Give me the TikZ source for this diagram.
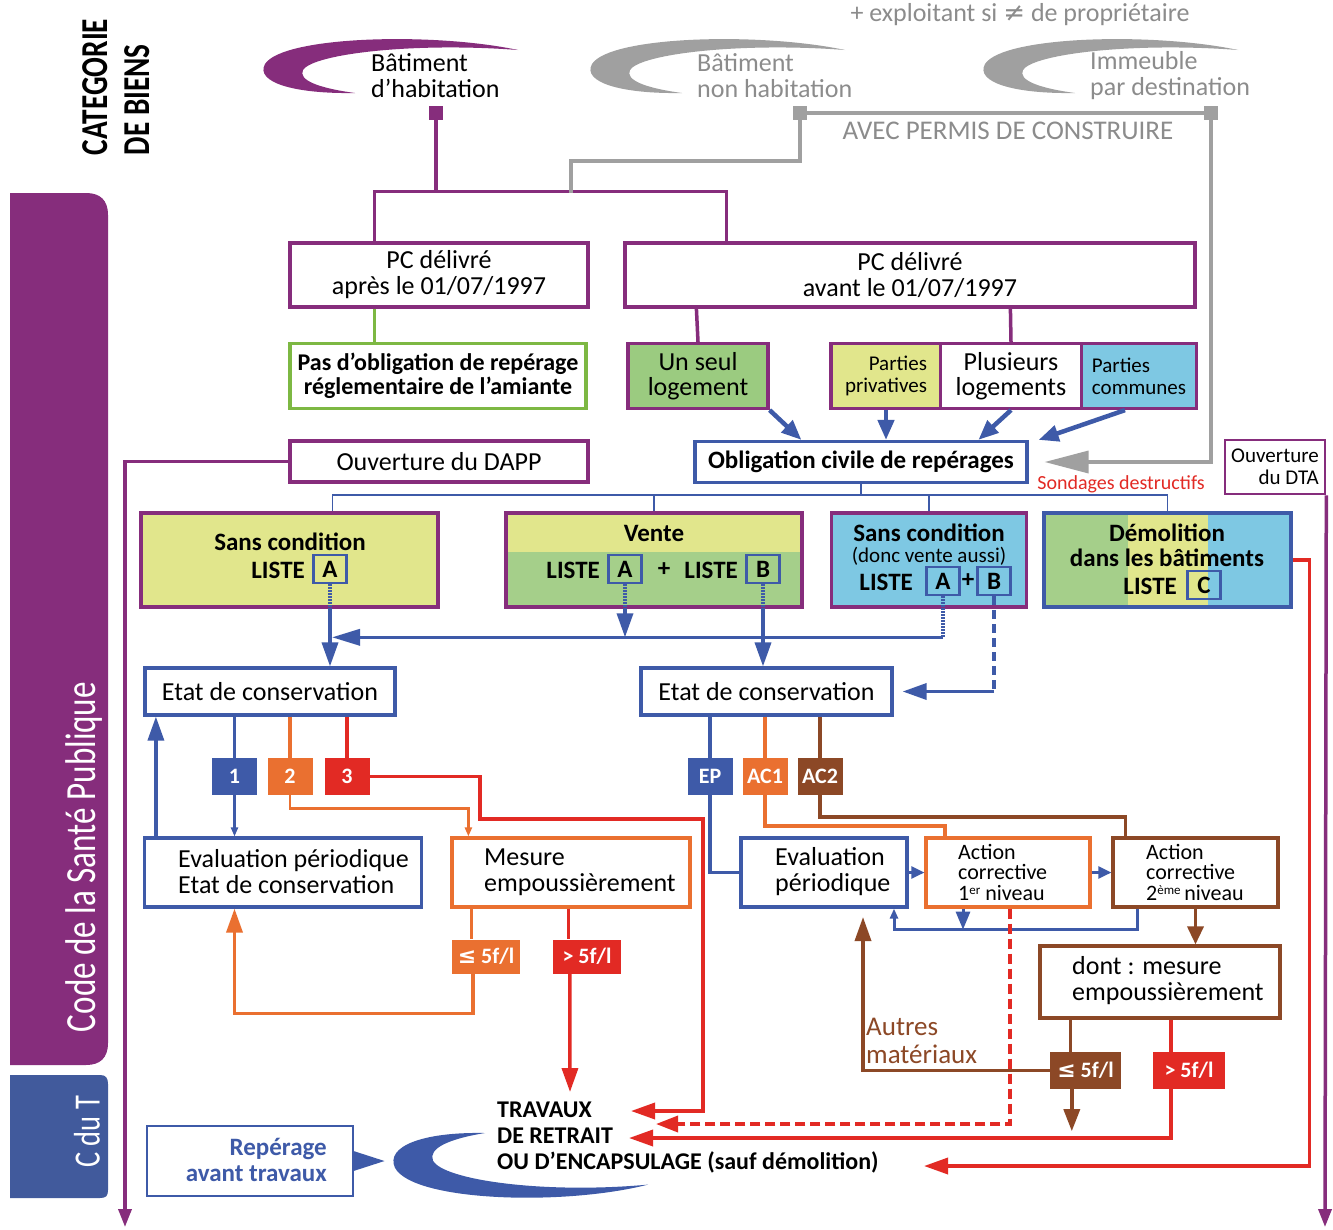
\documentclass[tikz,border=0pt]{standalone}
\usepackage{fontspec}
\setmainfont{Carlito}
\newfontfamily\condfont[FakeStretch=0.77]{Carlito}
\newfontfamily\symfont{DejaVu Sans}
\usetikzlibrary{arrows.meta,calc}
\definecolor{cpurple}{RGB}{134,45,124}
\definecolor{cblue}{RGB}{62,90,168}
\definecolor{corange}{RGB}{234,112,48}
\definecolor{cred}{RGB}{226,42,36}
\definecolor{cbrown}{RGB}{140,72,38}
\definecolor{cgray}{RGB}{160,160,160}
\definecolor{cgrayt}{RGB}{140,140,140}
\definecolor{cgreenb}{RGB}{125,184,67}
\definecolor{cyellow}{RGB}{225,230,140}
\definecolor{cgreen}{RGB}{165,207,138}
\definecolor{cgreentwo}{RGB}{155,203,128}
\definecolor{clblue}{RGB}{126,200,227}
\definecolor{cband}{RGB}{65,90,156}
\newcommand\myfR{\fontsize{26}{26}\selectfont}
\newcommand\myfB{\bfseries\fontsize{25}{26}\selectfont}
\newcommand\myfS{\fontsize{21}{22}\selectfont}
\newcommand\mysup[1]{{\fontsize{13}{13}\selectfont\raisebox{6pt}{#1}}}
\tikzset{cres/.pic={\fill (255,-18) .. controls (170,-36) and (20,-32) .. (2,-4) .. controls (-8,14) and (30,26) .. (92,25) .. controls (55,20) and (35,12) .. (40,2) .. controls (50,-14) and (150,-26) .. (255,-18) -- cycle;}}
\begin{document}
\begin{tikzpicture}[x=1pt,y=-1pt,
  box/.style={draw, line width=3.2pt, fill=white, inner sep=0pt, align=center, font=\myfR},
  lbl/.style={inner sep=0pt, align=left, font=\myfR, anchor=west},
  tag/.style={inner sep=0pt, minimum width=45pt, minimum height=37pt, text=white, font=\bfseries\fontsize{22}{22}\selectfont},
  lbox/.style={draw=cblue, line width=2.6pt, minimum width=33pt, minimum height=28pt, inner sep=0pt, font=\myfB},
  con/.style={line width=3.5pt},
  bigtip/.style={-{Triangle[length=24pt,width=16pt]}},
  barrow/.style={cblue, line width=4.5pt, -{Triangle[length=20pt,width=16pt]}},
  ldot/.style={cblue, line width=3.5pt, dash pattern=on 1.5pt off 1.5pt},
  tree/.style={cblue, line width=1.8pt}]
\fill[white] (0,0) rectangle (1333,1229);
\useasboundingbox (0,0) rectangle (1333,1229);

% left bands
\fill[cpurple] (10,193) -- (86,193) .. controls (100,193) and (108,200) .. (108,215) -- (108,1043) .. controls (108,1058) and (100,1065) .. (86,1065) -- (10,1065) -- cycle;
\fill[cband] (10,1075) -- (100,1075) .. controls (106,1075) and (108,1078) .. (108,1084) -- (108,1190) .. controls (108,1196) and (106,1198) .. (100,1198) -- (10,1198) -- cycle;
\node[rotate=90, text=white, inner sep=0pt, font=\condfont\fontsize{43}{43}\selectfont] (csp) at (84,857) {Code de la Santé Publique};
\node[rotate=90, text=white, inner sep=0pt, font=\condfont\fontsize{37}{37}\selectfont] (cdt) at (87,1132) {C du T};
\node[rotate=90, align=left, inner sep=0pt, font=\condfont\bfseries\fontsize{38}{42}\selectfont] (cat) at (116,87) {CATEGORIE\\DE BIENS};

% top categories
\node[text=cgrayt, font=\myfR, inner sep=0pt] (expl) at (1020,15) {+ exploitant si {\symfont ≠} de propriétaire};
\pic[color=cpurple] at (263,68) {cres};
\pic[color=cgray] at (590,68) {cres};
\pic[color=cgray] at (983,68) {cres};
\node[lbl] (hab) at (371,76) {Bâtiment\\d’habitation};
\node[lbl, text=cgrayt] (bnh) at (697,76) {Bâtiment\\non habitation};
\node[lbl, text=cgrayt] (ipd) at (1090,76) {Immeuble\\par destination};
\node[fill=cpurple, minimum size=14pt, inner sep=0pt] (sqH) at (436,113) {};
\node[fill=cgray, minimum size=14pt, inner sep=0pt] (sqN) at (800,113) {};
\node[fill=cgray, minimum size=14pt, inner sep=0pt] (sqI) at (1211,113) {};
\draw[cgray, con] (sqN.center) -- (sqI.center);
\node[text=cgrayt, font=\fontsize{27}{27}\selectfont, inner sep=0pt] (avec) at (1008,131) {AVEC PERMIS DE CONSTRUIRE};

% PC boxes
\node[box, draw=cpurple, minimum width=298pt, minimum height=64pt] (pcap) at (439,275) {PC délivré\\après le 01/07/1997};
\node[box, draw=cpurple, minimum width=570pt, minimum height=64pt] (pcav) at (910,275) {PC délivré\\avant le 01/07/1997};
\coordinate (tH) at (436,193);
\coordinate (gj) at (571,193);
\draw[cpurple, con] ([xshift=86pt]pcap.north west) -- ++(0,-50) -| ([xshift=103pt]pcav.north west);
\draw[cpurple, con] (sqH.center) -- (tH);
\draw[cgray, con] (sqN.center) -- ++(0,48) -| (gj);

\node[box, draw=cgreenb, minimum width=296pt, minimum height=65pt, font=\bfseries\fontsize{24}{24}\selectfont] (pasob) at (438,376) {Pas d’obligation de repérage\\réglementaire de l’amiante};
\draw[cgreenb, con] ([xshift=86pt]pcap.south west) -- ([xshift=86pt]pasob.north west);
\node[box, draw=cpurple, fill=cgreentwo, minimum width=140pt, minimum height=65pt, font=\fontsize{26}{25}\selectfont] (unseul) at (698,376) {Un seul\\logement};
\draw[cpurple, con] ([xshift=73pt]pcav.south west) -- (unseul.north);
\node[box, draw=cpurple, fill=cyellow, minimum width=110pt, minimum height=65pt, align=right, font=\myfS] (priv) at (886,376) {Parties\\privatives};
\node[box, draw=cpurple, fill=clblue, minimum width=115pt, minimum height=65pt, align=left, font=\myfS] (comm) at (1139,376) {Parties\\communes};
\node[box, draw=cpurple, minimum width=141pt, minimum height=65pt, font=\fontsize{26}{25}\selectfont] (plus) at (1011,376) {Plusieurs\\logements};
\draw[cpurple, con] ([xshift=387pt]pcav.south west) -- (plus.north);

% obligation
\node[box, draw=cblue, minimum width=332pt, minimum height=41pt, font=\myfB] (oblig) at (861,462) {Obligation civile de repérages};
\draw[barrow] (unseul.south east) -- ([xshift=108pt]oblig.north west);
\draw[barrow] (priv.south) -- (priv.south |- oblig.north);
\draw[barrow] (plus.south) -- ([xshift=285pt]oblig.north west);
\draw[barrow] ([xshift=-14pt]comm.south) -- ([xshift=10pt]oblig.north east);
\draw[cgray, con, -{Triangle[length=44pt,width=22pt]}] (sqI.center) -- (sqI.center |- oblig.east) -- ([xshift=16pt]oblig.east);
\node[text=cred, font=\fontsize{20}{20}\selectfont, inner sep=0pt] (sond) at (1121,484) {Sondages destructifs};

\node[box, draw=cpurple, minimum width=298pt, minimum height=41pt] (dapp) at (439,461.5) {Ouverture du DAPP};
\coordinate (dappend) at (125,1227);
\draw[cpurple, con, -{Triangle[length=18pt,width=13pt]}] (dapp.west) -| (dappend);
\node[box, draw=cpurple, line width=2.6pt, minimum width=100pt, minimum height=54pt, align=right, font=\myfS] (dta) at (1275,467) {Ouverture\\du DTA};
\coordinate (dtaend) at (1325,1227);
\draw[cpurple, con, -{Triangle[length=18pt,width=13pt]}] (dta.south east) -- (dtaend);

% four boxes
\node[box, draw=cpurple, fill=cyellow, minimum width=297pt, minimum height=94pt] (sc1) at (289.5,560) {};
\node[font=\myfB, inner sep=0pt] (sc1t) at (290,542) {Sans condition};
\node[font=\myfB, inner sep=0pt, anchor=east] (sc1l) at (305,570) {LISTE};
\node[lbox] (sc1A) at (330,569) {A};

\fill[cyellow] (506,513) rectangle (802,552);
\fill[cgreen] (506,552) rectangle (802,607);
\node[box, draw=cpurple, fill=none, minimum width=296pt, minimum height=94pt] (vente) at (654,560) {};
\node[font=\myfB, inner sep=0pt] (ventet) at (654,533) {Vente};
\node[font=\myfB, inner sep=0pt, anchor=east] (vl1) at (600,570) {LISTE};
\node[lbox] (vA) at (625,569) {A};
\node[font=\myfB, inner sep=0pt] (vplus) at (664,570) {+};
\node[font=\myfB, inner sep=0pt, anchor=east] (vl2) at (738,570) {LISTE};
\node[lbox] (vB) at (763,569) {B};

\node[box, draw=cpurple, fill=clblue, minimum width=195pt, minimum height=94pt] (sc3) at (929,560) {};
\node[font=\myfB, inner sep=0pt] (sc3t) at (929,533) {Sans condition};
\node[font=\myfS, inner sep=0pt] (sc3d) at (929,556) {(donc vente aussi)};
\node[font=\myfB, inner sep=0pt, anchor=east] (sc3l) at (913,582) {LISTE};
\node[lbox] (sc3A) at (943,581) {A};
\node[font=\myfB, inner sep=0pt] (sc3p) at (968,581) {+};
\node[lbox] (sc3B) at (994,581) {B};

\fill[cgreen] (1044,513) rectangle (1128,607);
\fill[cyellow] (1128,513) rectangle (1208,607);
\fill[clblue] (1208,513) rectangle (1291,607);
\node[box, draw=cblue, fill=none, minimum width=247pt, minimum height=94pt] (demol) at (1167.5,560) {};
\node[font=\myfB, inner sep=0pt] (demt) at (1167,533) {Démolition};
\node[font=\myfB, inner sep=0pt] (demd) at (1167,558) {dans les bâtiments};
\node[font=\myfB, inner sep=0pt, anchor=east] (deml) at (1177,586) {LISTE};
\node[lbox] (demC) at (1204,585) {C};

% tree
\draw[tree] (oblig.south) -- ++(0,11) coordinate (tj);
\draw[tree] ([xshift=43pt]sc1.north) |- (tj) -| (demol.north);
\draw[tree] (vente.north) -- (vente.north |- tj);
\draw[tree] (sc3.north) -- (sc3.north |- tj);

% etats
\node[box, draw=cblue, minimum width=250pt, minimum height=47pt] (etat1) at (270,691.5) {Etat de conservation};
\node[box, draw=cblue, minimum width=251pt, minimum height=47pt] (etat2) at (766.5,691.5) {Etat de conservation};

\draw[ldot] (sc1A.south) -- (sc1A.south |- sc1.south);
\draw[cblue, con, bigtip] (sc1A.south |- sc1.south) -- (sc1A.south |- etat1.north);
\draw[ldot] (sc3A.south) -- ++(0,41) coordinate (hj);
\draw[cblue, con, -{Triangle[length=28pt,width=16pt]}] (hj) -- ([xshift=2pt]hj -| sc1A.south);
\draw[ldot] (vA.south) -- (vA.south |- vente.south);
\draw[cblue, con, bigtip] (vA.south |- vente.south) -- (vA.south |- hj);
\draw[ldot] (vB.south) -- (vB.south |- vente.south);
\draw[cblue, con, bigtip] (vB.south |- vente.south) -- (vB.south |- etat2.north);
\draw[cblue, con, dash pattern=on 9pt off 5pt] (sc3B.south) -- (sc3B.south |- etat2.east);
\draw[cblue, con, bigtip] (sc3B.south |- etat2.east) -- ([xshift=9pt]etat2.east);

% tags
\node[tag, fill=cblue] (n1) at (234.5,776.5) {1};
\node[tag, fill=corange] (n2) at (290,776.5) {2};
\node[tag, fill=cred] (n3) at (347,776.5) {3};
\node[tag, fill=cblue] (ep) at (710,776.5) {EP};
\node[tag, fill=corange] (ac1) at (765,776.5) {AC1};
\node[tag, fill=cbrown] (ac2) at (820,776.5) {AC2};
\draw[cblue, con] (n1.north |- etat1.south) -- (n1.north);
\draw[corange, con] (n2.north |- etat1.south) -- (n2.north);
\draw[cred, con] (n3.north |- etat1.south) -- (n3.north);
\draw[cblue, con] (ep.north |- etat2.south) -- (ep.north);
\draw[corange, con] (ac1.north |- etat2.south) -- (ac1.north);
\draw[cbrown, con] (ac2.north |- etat2.south) -- (ac2.north);

% left column lower
\node[box, draw=cblue, minimum width=277pt, minimum height=69pt] (eval1) at (283,872.5) {};
\node[lbl] (eval1t) at (178,872) {Evaluation périodique\\Etat de conservation};
\node[box, draw=corange, minimum width=238pt, minimum height=69pt] (mesure) at (571,872.5) {};
\node[lbl] (mesuret) at (484,872) {Mesure\\empoussièrement};
\draw[cblue, line width=2.2pt, -{Triangle[length=9pt,width=7pt]}] (n1.south) -- (n1.south |- eval1.north);
\draw[corange, line width=2.6pt, -{Triangle[length=9pt,width=7pt]}] (n2.south) -- ++(0,13) -| ([xshift=18pt]mesure.north west);
\draw[cblue, con, bigtip] ([xshift=13pt]eval1.north west) -- ([xshift=13pt]eval1.north west |- etat1.south);

\node[tag, fill=corange, minimum width=68pt, minimum height=34pt] (le5a) at (486,956.5) {{\symfont ≤} 5f/l};
\node[tag, fill=cred, minimum width=68pt, minimum height=34pt] (gt5a) at (587,956.5) {> 5f/l};
\draw[corange, con] ([xshift=21pt]mesure.south west) -- ([xshift=21pt]mesure.south west |- le5a.north);
\draw[corange, con, bigtip] ([xshift=21pt]le5a.south west) -- ++(0,40) -| (n1.south |- eval1.south);
\draw[cred, con] ([xshift=118pt]mesure.south west) -- ([xshift=118pt]mesure.south west |- gt5a.north);

% travaux
\node[lbl, font=\bfseries\fontsize{24}{26}\selectfont] (trav) at (497,1138) {TRAVAUX\\DE RETRAIT\\OU D’ENCAPSULAGE (sauf démolition)};
\coordinate (tipA) at (631,1111);
\coordinate (tipB) at (656,1124);
\coordinate (tipC) at (629,1138);
\coordinate (tipD) at (924,1166);
\coordinate (tipM) at (570,1092);
\draw[cred, con, bigtip] ([xshift=17pt]gt5a.south west) -- (tipM);
\draw[cred, con, bigtip] (n3.east) -| (480,819) -| (703,1111) -- (tipA);
\pic[color=cblue, yscale=-1.2] at (393,1163) {cres};
\node[box, draw=cblue, line width=2pt, minimum width=206pt, minimum height=70pt] (rep) at (249.5,1161) {};
\node[font=\myfB, text=cblue, align=right, anchor=east, inner sep=0pt] (rept) at (327,1160) {Repérage\\avant travaux};
\fill[cblue] ([yshift=10pt]rep.east) -- ([xshift=31pt]rep.east) -- ([yshift=-10pt]rep.east) -- cycle;

% right column lower
\node[box, draw=cblue, minimum width=166pt, minimum height=69pt] (eval2) at (824,872.5) {};
\node[lbl] (eval2t) at (775,872) {Evaluation\\périodique};
\node[box, draw=corange, minimum width=164pt, minimum height=69pt] (act1) at (1008,872.5) {};
\node[lbl, font=\fontsize{22}{20.5}\selectfont] (act1t) at (958,872) {Action\\corrective\\1\mysup{er} niveau};
\node[box, draw=cbrown, minimum width=165pt, minimum height=69pt] (act2) at (1195.5,872.5) {};
\node[lbl, font=\fontsize{22}{20.5}\selectfont] (act2t) at (1146,872) {Action\\corrective\\2\mysup{ème}\,niveau};
\draw[cblue, con] (ep.south) |- (eval2.west);
\draw[corange, con] (ac1.south) -- ++(0,31) -| ([xshift=-63pt]act1.north);
\draw[cbrown, con] (ac2.south) -- ++(0,22) -| ([xshift=-70pt]act2.north);
\draw[cblue, line width=2.2pt, -{Triangle[length=13pt,width=12pt]}] (eval2.east) -- (act1.west);
\draw[cblue, line width=2.2pt, -{Triangle[length=13pt,width=12pt]}] (act1.east) -- (act2.west);
\draw[cblue, line width=3pt, -{Triangle[length=10pt,width=8pt]}] ([xshift=-58pt]act2.south) -- ++(0,21) -| ([xshift=70pt]eval2.south);
\draw[cblue, line width=3pt, -{Triangle[length=18pt,width=14pt]}] ([xshift=-45pt]act1.south) -- ++(0,21);

\node[box, draw=cbrown, minimum width=240pt, minimum height=72pt] (dont) at (1160,982) {};
\node[lbl] (dontt) at (1072,981) {dont : mesure\\empoussièrement};
\draw[cbrown, con, -{Triangle[length=18pt,width=16pt]}] (act2.south) -- (act2.south |- dont.north);
\node[tag, fill=cbrown, minimum width=71pt, minimum height=37pt] (le5b) at (1085.5,1070.5) {{\symfont ≤} 5f/l};
\node[tag, fill=cred, minimum width=72pt, minimum height=37pt] (gt5b) at (1189,1070.5) {> 5f/l};
\draw[cbrown, con] ([xshift=32pt]dont.south west) -- ([xshift=32pt]dont.south west |- le5b.north);
\draw[cbrown, con, -{Triangle[length=22pt,width=16pt]}] ([xshift=22pt]le5b.south west) -- ++(0,42);
\coordinate (amt) at (863,917);
\draw[cbrown, con, bigtip] (le5b.west) -| (amt);
\node[lbl, text=cbrown, font=\fontsize{27}{28}\selectfont] (autres) at (866,1041) {Autres\\matériaux};
\draw[cred, con] ([xshift=11pt]dont.south) -- ([xshift=11pt]dont.south |- gt5b.north);
\draw[cred, con, bigtip] ([xshift=18pt]gt5b.south west) |- (tipC);
\draw[cred, con, dash pattern=on 10pt off 5pt, -{Triangle[length=22pt,width=16pt]}] ([xshift=2pt]act1.south) |- (tipB);
\draw[cred, con, bigtip] (demol.east) -- ++(17,0) |- (tipD);
\end{tikzpicture}
\end{document}
